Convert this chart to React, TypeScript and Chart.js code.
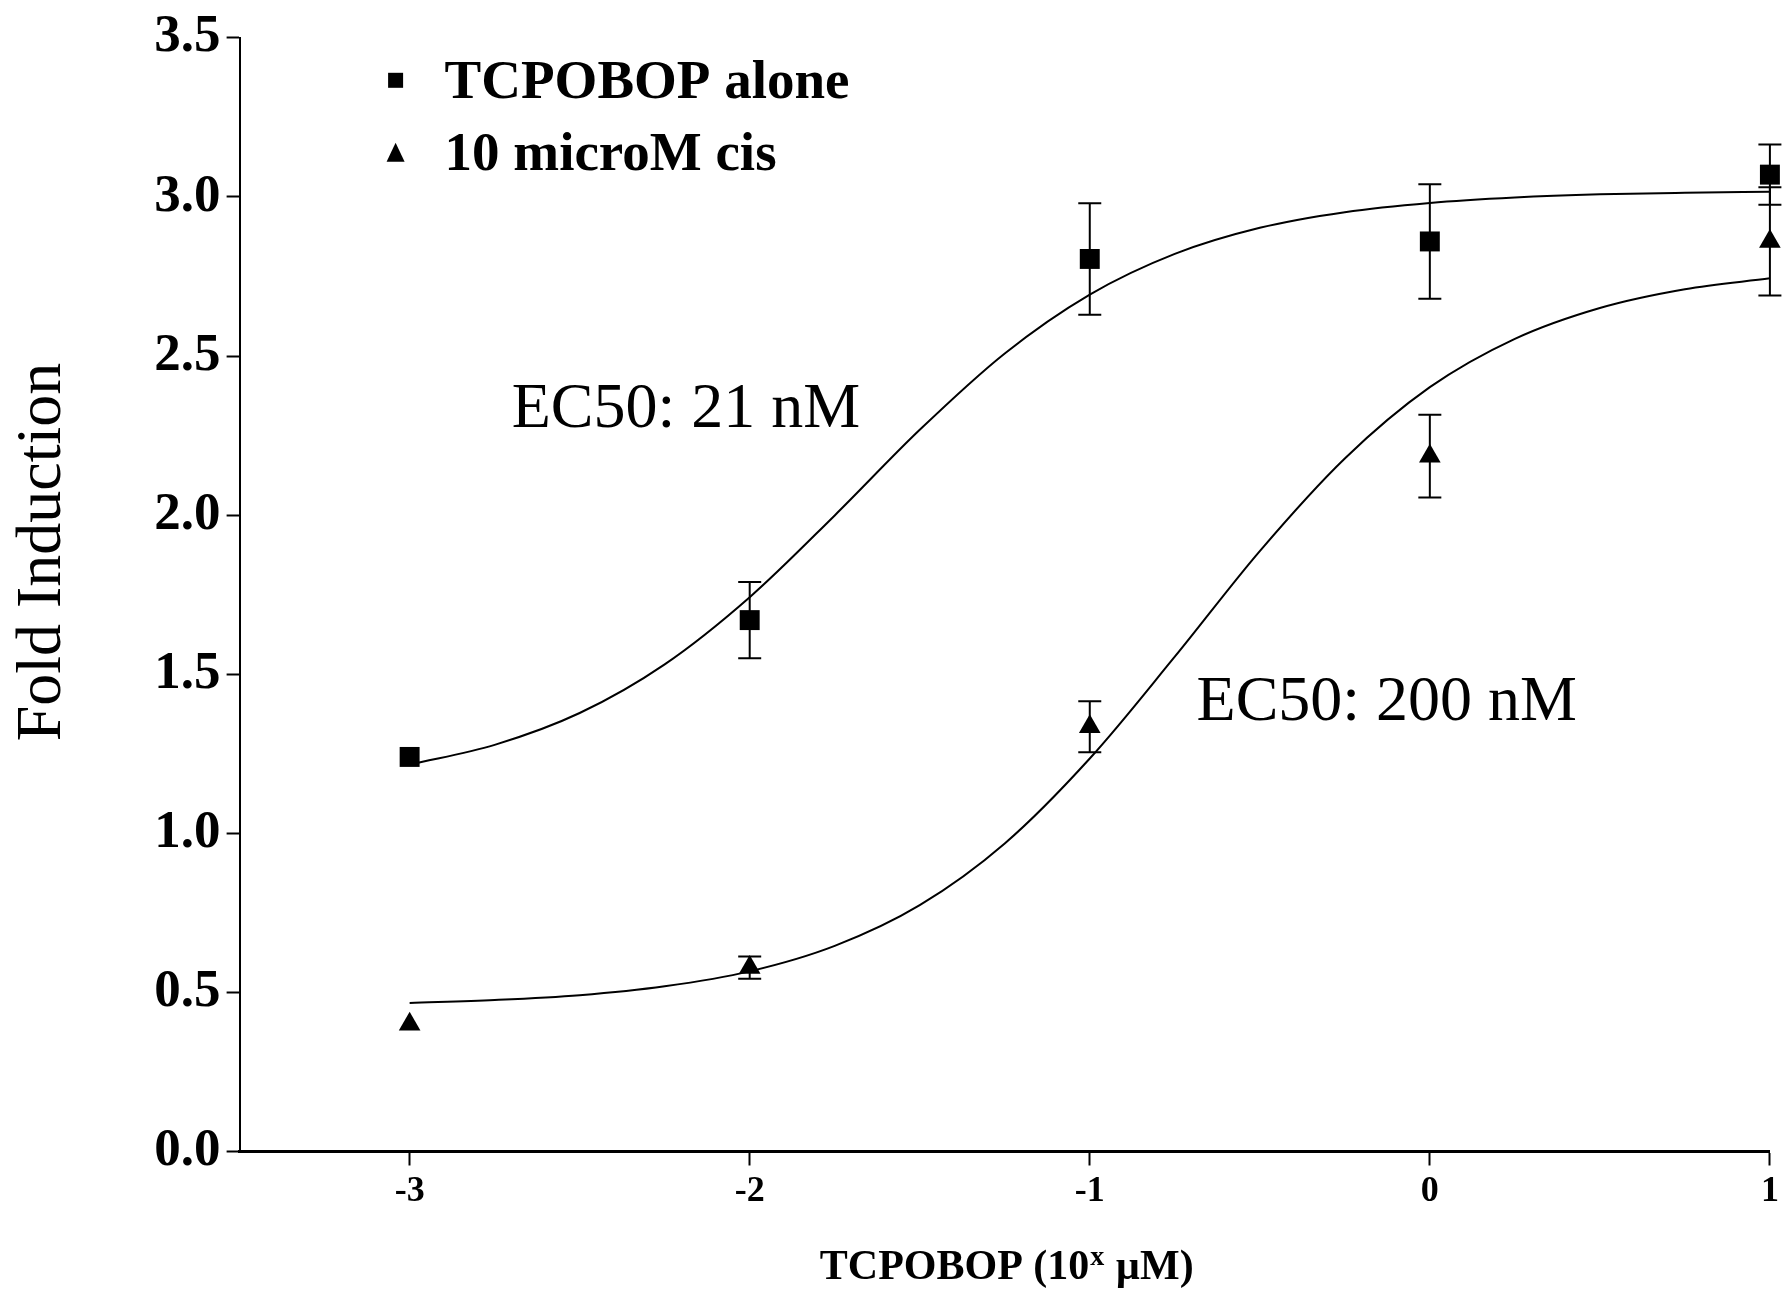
import React, { useEffect, useRef } from "react";
import { Chart, registerables } from "chart.js";

Chart.register(...registerables);

// ---- data ----
const doseLog = [-3, -2, -1, 0, 1];
const aloneMean = [1.24, 1.67, 2.805, 2.86, 3.07];
const aloneErr = [0, 0.12, 0.175, 0.18, 0.095];
const cisMean = [0.4, 0.578, 1.335, 2.185, 2.86];
const cisErr = [0, 0.035, 0.08, 0.13, 0.17];

// fitted curves
const curveX = [-3, -2.75, -2.5, -2.25, -2, -1.75, -1.5, -1.25, -1, -0.75, -0.5, -0.25, 0, 0.25, 0.5, 0.75, 1];
const aloneCurve = [1.216, 1.278, 1.378, 1.531, 1.742, 1.999, 2.268, 2.508, 2.693, 2.821, 2.903, 2.952, 2.981, 2.998, 3.008, 3.013, 3.016];
const cisCurve = [0.467, 0.476, 0.491, 0.519, 0.566, 0.646, 0.774, 0.968, 1.235, 1.555, 1.887, 2.178, 2.402, 2.554, 2.651, 2.71, 2.744];

const seriesNames = ["TCPOBOP alone", "10 microM cis"];
const xTickValues = [-3, -2, -1, 0, 1];
const yTickValues = [0, 0.5, 1, 1.5, 2, 2.5, 3, 3.5];

const ec50Text = ["EC50: 21 nM", "EC50: 200 nM"];
const ec50AtX = [-2.7, -0.686];
const ec50AtY = [2.276, 1.357];

const yTitle = "Fold Induction";
const xTitleParts = ["TCPOBOP (10", "x", " \u00b5M)"];

const SERIF = "'Liberation Serif', 'Times New Roman', serif";

const overlayPlugin = {
  id: "overlay",
  afterDatasetsDraw(chart: any) {
    const { ctx, scales } = chart;
    const x = scales.x;
    const y = scales.y;
    ctx.save();
    ctx.strokeStyle = "#000";
    ctx.lineWidth = 2;
    const groups: [number[], number[]][] = [
      [aloneMean, aloneErr],
      [cisMean, cisErr],
    ];
    groups.forEach(([m, e]) => {
      m.forEach((v, i) => {
        if (!e[i]) return;
        const px = x.getPixelForValue(doseLog[i]);
        const top = y.getPixelForValue(v + e[i]);
        const bot = y.getPixelForValue(v - e[i]);
        const half = 11.5;
        ctx.beginPath();
        ctx.moveTo(px, top);
        ctx.lineTo(px, bot);
        ctx.moveTo(px - half, top);
        ctx.lineTo(px + half, top);
        ctx.moveTo(px - half, bot);
        ctx.lineTo(px + half, bot);
        ctx.stroke();
      });
    });
    ctx.restore();
  },
  afterDraw(chart: any) {
    const { ctx, scales, chartArea } = chart;
    const x = scales.x;
    const y = scales.y;
    ctx.save();
    ctx.fillStyle = "#000";

    // legend
    const mx = chartArea.left + 156;
    const tx = chartArea.left + 205;
    const sq = 15;
    ctx.fillRect(mx - sq / 2, chartArea.top + 42.5 - sq / 2, sq, sq);
    ctx.beginPath();
    ctx.moveTo(mx, chartArea.top + 105);
    ctx.lineTo(mx + 9, chartArea.top + 124);
    ctx.lineTo(mx - 9, chartArea.top + 124);
    ctx.closePath();
    ctx.fill();
    ctx.font = `bold 55px ${SERIF}`;
    ctx.textAlign = "left";
    ctx.textBaseline = "alphabetic";
    ctx.fillText(seriesNames[0], tx, chartArea.top + 60);
    ctx.fillText(seriesNames[1], tx, chartArea.top + 132);

    // EC50 annotations
    ctx.font = `64px ${SERIF}`;
    ec50Text.forEach((t, i) => {
      ctx.fillText(t, x.getPixelForValue(ec50AtX[i]), y.getPixelForValue(ec50AtY[i]));
    });

    // y title
    ctx.save();
    ctx.translate(43, 552);
    ctx.rotate(-Math.PI / 2);
    ctx.font = `64px ${SERIF}`;
    ctx.textAlign = "center";
    ctx.textBaseline = "middle";
    ctx.fillText(yTitle, 0, 0);
    ctx.restore();

    // x title with superscript
    const bigFont = `bold 42px ${SERIF}`;
    const smallFont = `bold 28px ${SERIF}`;
    ctx.font = bigFont;
    const w0 = ctx.measureText(xTitleParts[0]).width;
    const w2 = ctx.measureText(xTitleParts[2]).width;
    ctx.font = smallFont;
    const w1 = ctx.measureText(xTitleParts[1]).width;
    const total = w0 + w1 + w2 + 2;
    const cx = (chartArea.left + chartArea.right) / 2 + 2;
    let sx = cx - total / 2;
    const base = 1279;
    ctx.textAlign = "left";
    ctx.textBaseline = "alphabetic";
    ctx.font = bigFont;
    ctx.fillText(xTitleParts[0], sx, base);
    sx += w0 + 1;
    ctx.font = smallFont;
    ctx.fillText(xTitleParts[1], sx, base - 14);
    sx += w1 + 1;
    ctx.font = bigFont;
    ctx.fillText(xTitleParts[2], sx, base);

    ctx.restore();
  },
};

export default function App() {
  const canvasRef = useRef<HTMLCanvasElement | null>(null);

  useEffect(() => {
    if (!canvasRef.current) return;
    const chart = new Chart(canvasRef.current, {
      type: "line",
      data: {
        datasets: [
          {
            label: seriesNames[0],
            data: doseLog.map((d, i) => ({ x: d, y: aloneMean[i] })),
            showLine: false,
            pointStyle: "rect",
            pointRadius: 14.1,
            pointBackgroundColor: "#000",
            pointBorderColor: "#000",
            pointBorderWidth: 0,
            clip: false,
            order: 0,
          },
          {
            label: seriesNames[1],
            data: doseLog.map((d, i) => ({ x: d, y: cisMean[i] })),
            showLine: false,
            pointStyle: "triangle",
            pointRadius: 12.5,
            pointBackgroundColor: "#000",
            pointBorderColor: "#000",
            pointBorderWidth: 0,
            clip: false,
            order: 0,
          },
          {
            label: "fit alone",
            data: curveX.map((d, i) => ({ x: d, y: aloneCurve[i] })),
            borderColor: "#000",
            borderWidth: 2,
            pointRadius: 0,
            cubicInterpolationMode: "monotone",
            fill: false,
            order: 1,
          },
          {
            label: "fit cis",
            data: curveX.map((d, i) => ({ x: d, y: cisCurve[i] })),
            borderColor: "#000",
            borderWidth: 2,
            pointRadius: 0,
            cubicInterpolationMode: "monotone",
            fill: false,
            order: 1,
          },
        ],
      },
      options: {
        animation: false,
        responsive: false,
        devicePixelRatio: 1,
        events: [],
        layout: { padding: { top: 33.5, right: 14, bottom: 0, left: 0 } },
        plugins: {
          legend: { display: false },
          tooltip: { enabled: false },
          title: { display: false },
        },
        scales: {
          x: {
            type: "linear",
            min: -3.5,
            max: 1,
            afterFit: (s: any) => {
              s.height = 137.5;
            },
            afterBuildTicks: (s: any) => {
              s.ticks = xTickValues.map((v) => ({ value: v }));
            },
            border: { display: true, color: "#000", width: 3 },
            grid: {
              display: true,
              drawOnChartArea: false,
              drawTicks: true,
              tickLength: 14,
              tickWidth: 2,
              tickColor: "#000",
            },
            ticks: {
              autoSkip: false,
              maxRotation: 0,
              padding: 5,
              color: "#000",
              font: { family: SERIF, size: 36, weight: "bold" },
              callback: (v: any) => String(v),
            },
          },
          y: {
            type: "linear",
            min: 0,
            max: 3.5,
            afterFit: (s: any) => {
              s.width = 239.6;
            },
            afterBuildTicks: (s: any) => {
              s.ticks = yTickValues.map((v) => ({ value: v }));
            },
            border: { display: true, color: "#000", width: 2 },
            grid: {
              display: true,
              drawOnChartArea: false,
              drawTicks: true,
              tickLength: 13,
              tickWidth: 2,
              tickColor: "#000",
            },
            ticks: {
              padding: 6,
              color: "#000",
              font: { family: SERIF, size: 53, weight: "bold" },
              callback: (v: any) => Number(v).toFixed(1),
            },
          },
        },
      } as any,
      plugins: [overlayPlugin],
    });
    return () => chart.destroy();
  }, []);

  return (
    <div
      style={{
        position: "absolute",
        left: 0,
        top: 0,
        width: 1784,
        height: 1289,
        background: "#fff",
      }}
    >
      <canvas ref={canvasRef} width={1784} height={1289} style={{ width: 1784, height: 1289 }} />
    </div>
  );
}
